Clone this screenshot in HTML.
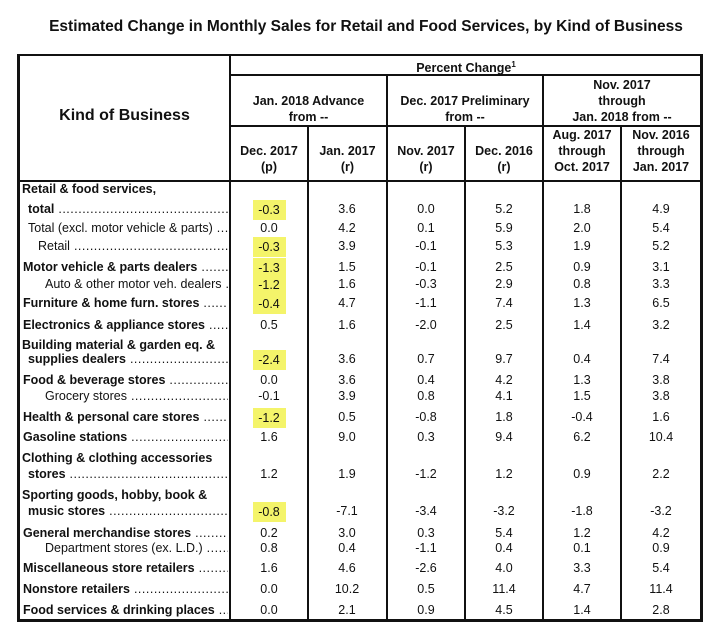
<!DOCTYPE html>
<html><head><meta charset="utf-8">
<style>
body{margin:0;background:#fff;width:720px;height:631px;position:relative;overflow:hidden;font-family:"Liberation Sans",Arial,sans-serif;color:#111}
.a{position:absolute}
.ln{position:absolute;background:#111}
.h{position:absolute;font-weight:bold;font-size:12.5px;text-align:center;line-height:16px}
.lab{position:absolute;white-space:nowrap;overflow:hidden;font-size:12.5px;line-height:16px}
.lab.b{font-weight:bold}
.lab::after{content:" ..................................................................................................";font-weight:normal;letter-spacing:0.5px}
.v{position:absolute;font-size:12.5px;line-height:16px;width:60px;text-align:center;margin-left:-30px}
.hl{background:#f4f46a;padding:1px 0}
</style></head><body>
<div class="a" style="left:366px;top:18px;transform:translateX(-50%) scaleX(0.97);white-space:nowrap;font-weight:bold;font-size:16px">Estimated Change in Monthly Sales for Retail and Food Services, by Kind of Business</div>

<div>
<div class="ln" style="left:17px;top:54px;width:686px;height:2px"></div>
<div class="ln" style="left:17px;top:619px;width:686px;height:3px"></div>
<div class="ln" style="left:17px;top:54px;width:3px;height:568px"></div>
<div class="ln" style="left:700px;top:54px;width:3px;height:568px"></div>
<div class="ln" style="left:229px;top:54px;width:2px;height:568px"></div>
<div class="ln" style="left:230px;top:74px;width:472px;height:2px"></div>
<div class="ln" style="left:17px;top:180px;width:686px;height:2px"></div>
<div class="ln" style="left:230px;top:125px;width:472px;height:2px"></div>
<div class="ln" style="left:307px;top:125px;width:2px;height:497px"></div>
<div class="ln" style="left:386px;top:75px;width:2px;height:547px"></div>
<div class="ln" style="left:464px;top:125px;width:2px;height:497px"></div>
<div class="ln" style="left:542px;top:75px;width:2px;height:547px"></div>
<div class="ln" style="left:620px;top:125px;width:2px;height:497px"></div>
</div>

<div class="h" style="left:20px;width:209px;top:107px;font-size:16px;line-height:18px">Kind of Business</div>
<div class="h" style="left:231px;width:470px;top:57px">Percent Change<sup style="font-size:8px">1</sup></div>
<div class="h" style="left:231px;width:155px;top:93px">Jan. 2018 Advance<br>from --</div>
<div class="h" style="left:388px;width:154px;top:93px">Dec. 2017 Preliminary<br>from --</div>
<div class="h" style="left:544px;width:156px;top:77px">Nov. 2017<br>through<br>Jan. 2018 from --</div>
<div class="h" style="left:231px;width:76px;top:143px">Dec. 2017<br>(p)</div>
<div class="h" style="left:309px;width:77px;top:143px">Jan. 2017<br>(r)</div>
<div class="h" style="left:388px;width:76px;top:143px">Nov. 2017<br>(r)</div>
<div class="h" style="left:466px;width:76px;top:143px">Dec. 2016<br>(r)</div>
<div class="h" style="left:544px;width:76px;top:127px">Aug. 2017<br>through<br>Oct. 2017</div>
<div class="h" style="left:622px;width:78px;top:127px">Nov. 2016<br>through<br>Jan. 2017</div>

<div id="body"></div>

<script>
const categories=["total","Total (excl. motor vehicle & parts)","Retail","Motor vehicle & parts dealers","Auto & other motor veh. dealers","Furniture & home furn. stores","Electronics & appliance stores","supplies dealers","Food & beverage stores","Grocery stores","Health & personal care stores","Gasoline stations","stores","music stores","General merchandise stores","Department stores (ex. L.D.)","Miscellaneous store retailers","Nonstore retailers","Food services & drinking places"];
const prefixLines=["Retail & food services,",null,null,null,null,null,null,"Building material & garden eq. &",null,null,null,null,"Clothing & clothing accessories","Sporting goods, hobby, book &",null,null,null,null,null];
const boldFlags=[1,0,0,1,0,1,1,1,1,0,1,1,1,1,1,0,1,1,1];
const highlightFlags=[1,0,1,1,1,1,0,1,0,0,1,0,0,1,0,0,0,0,0];
const indents=[10,10,20,5,27,5,5,10,5,27,5,5,10,10,5,27,5,5,5];
const rowY=[209,228,246,267,284,303,325,359,380,396,417,437,474,511,533,548,568,589,610];
const colDec2017=[-0.3,0.0,-0.3,-1.3,-1.2,-0.4,0.5,-2.4,0.0,-0.1,-1.2,1.6,1.2,-0.8,0.2,0.8,1.6,0.0,0.0];
const colJan2017=[3.6,4.2,3.9,1.5,1.6,4.7,1.6,3.6,3.6,3.9,0.5,9.0,1.9,-7.1,3.0,0.4,4.6,10.2,2.1];
const colNov2017=[0.0,0.1,-0.1,-0.1,-0.3,-1.1,-2.0,0.7,0.4,0.8,-0.8,0.3,-1.2,-3.4,0.3,-1.1,-2.6,0.5,0.9];
const colDec2016=[5.2,5.9,5.3,2.5,2.9,7.4,2.5,9.7,4.2,4.1,1.8,9.4,1.2,-3.2,5.4,0.4,4.0,11.4,4.5];
const colAugOct=[1.8,2.0,1.9,0.9,0.8,1.3,1.4,0.4,1.3,1.5,-0.4,6.2,0.9,-1.8,1.2,0.1,3.3,4.7,1.4];
const colNovJan=[4.9,5.4,5.2,3.1,3.3,6.5,3.2,7.4,3.8,3.8,1.6,10.4,2.2,-3.2,4.2,0.9,5.4,11.4,2.8];
const series=[colDec2017,colJan2017,colNov2017,colDec2016,colAugOct,colNovJan];
const colCenter=[269,347,426,504,582,661];
const body=document.getElementById('body');
categories.forEach((c,i)=>{
  const y=rowY[i]-8;
  if(prefixLines[i]){
    const p=document.createElement('div');
    p.className='a';
    p.style.cssText='left:22px;top:'+(y-(i===0?20:i===7?14:16))+'px;font-weight:bold;font-size:12.5px;line-height:16px;white-space:nowrap';
    p.textContent=prefixLines[i];
    
    
    body.appendChild(p);
  }
  const l=document.createElement('div');
  l.className='lab'+(boldFlags[i]?' b':'');
  const left=18+indents[i];
  l.style.left=left+'px';l.style.top=y+'px';l.style.width=(228-left)+'px';
  l.textContent=c;
  
  
  body.appendChild(l);
  series.forEach((s,j)=>{
    const v=document.createElement('div');
    v.className='v';
    v.style.left=colCenter[j]+'px';v.style.top=y+'px';
    const t=s[i].toFixed(1);
    if(j===0&&highlightFlags[i]){
      const sp=document.createElement('span');
      sp.className='hl';
      sp.style.cssText='display:inline-block;width:33px;line-height:18px;margin-top:-1px';
      sp.textContent=t;
      
      
      v.appendChild(sp);
    } else v.textContent=t;
    
    
    body.appendChild(v);
  });
});
</script>
</body></html>
